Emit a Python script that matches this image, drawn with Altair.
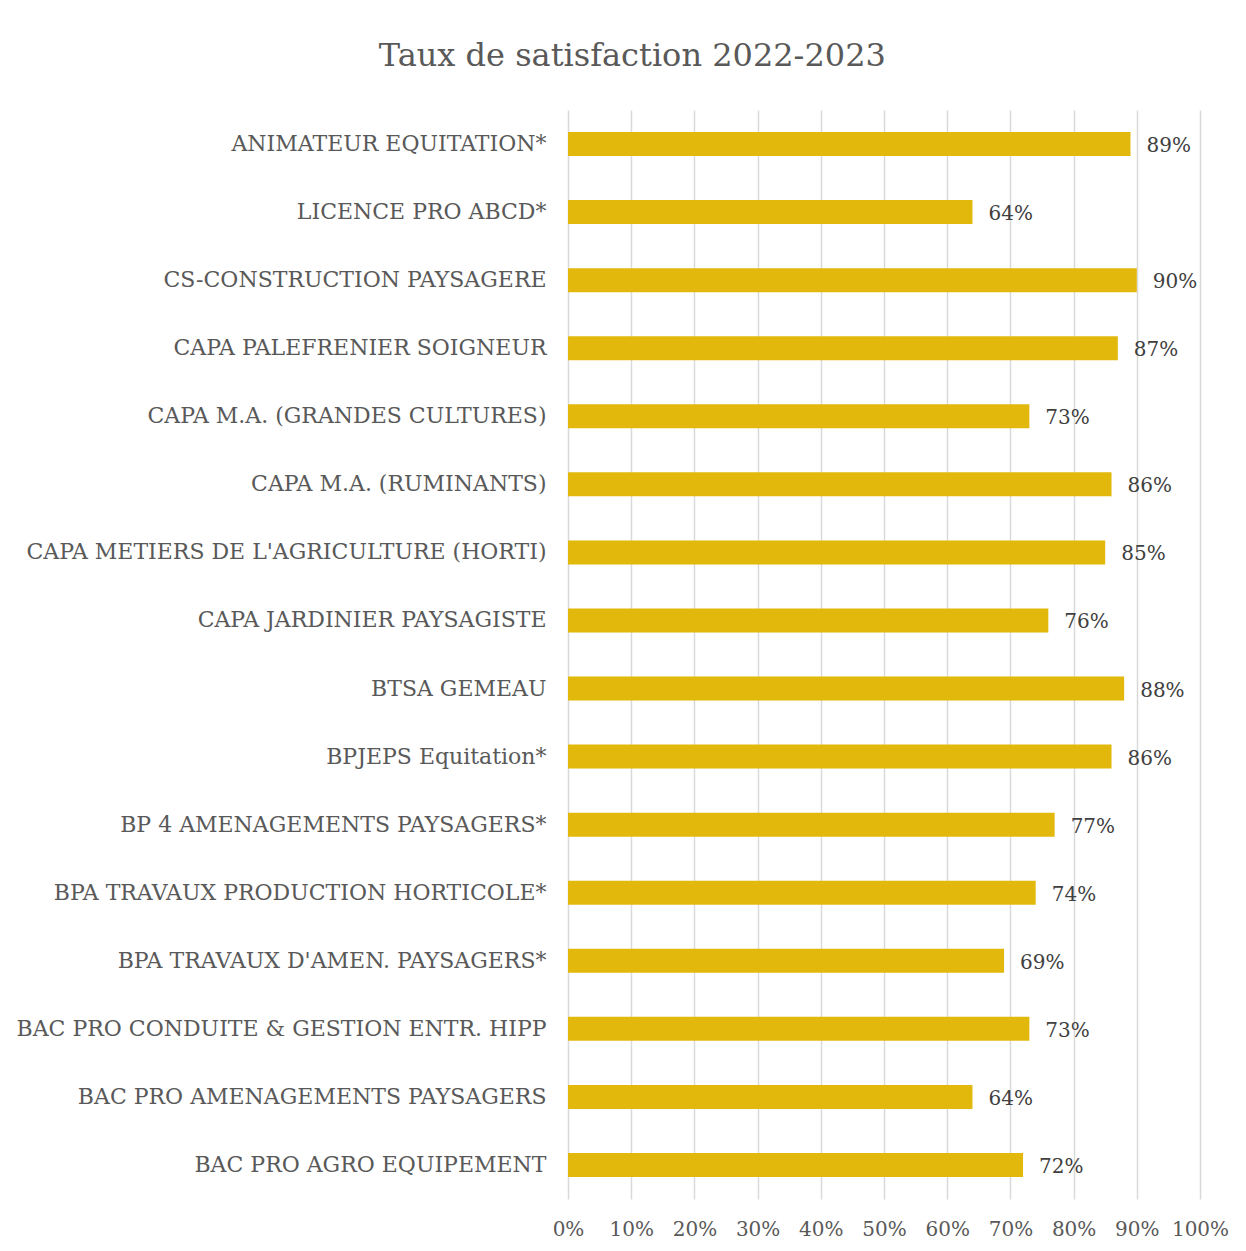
import altair as alt
import pandas as pd

categories = [
    "ANIMATEUR EQUITATION*",
    "LICENCE PRO ABCD*",
    "CS-CONSTRUCTION PAYSAGERE",
    "CAPA PALEFRENIER SOIGNEUR",
    "CAPA M.A. (GRANDES CULTURES)",
    "CAPA M.A. (RUMINANTS)",
    "CAPA METIERS DE L'AGRICULTURE (HORTI)",
    "CAPA JARDINIER PAYSAGISTE",
    "BTSA GEMEAU",
    "BPJEPS Equitation*",
    "BP 4 AMENAGEMENTS PAYSAGERS*",
    "BPA TRAVAUX PRODUCTION HORTICOLE*",
    "BPA TRAVAUX D'AMEN. PAYSAGERS*",
    "BAC PRO CONDUITE & GESTION ENTR. HIPP",
    "BAC PRO AMENAGEMENTS PAYSAGERS",
    "BAC PRO AGRO EQUIPEMENT",
]
values = [0.89, 0.64, 0.90, 0.87, 0.73, 0.86, 0.85, 0.76, 0.88, 0.86, 0.77, 0.74, 0.69, 0.73, 0.64, 0.72]
x_ticks = [0, 0.1, 0.2, 0.3, 0.4, 0.5, 0.6, 0.7, 0.8, 0.9, 1.0]

df = pd.DataFrame({"cat": categories, "val": values})
FONT = "DejaVu Serif"

y = alt.Y("cat:N", sort=categories, title=None,
          axis=alt.Axis(labelFont=FONT, labelFontSize=22, labelColor="#595959",
                        labelPadding=22, ticks=False, domain=False, labelLimit=600))
x = alt.X("val:Q", title=None, scale=alt.Scale(domain=[0, 1]),
          axis=alt.Axis(values=x_ticks, format=".0%", labelFont=FONT, labelFontSize=20,
                        labelColor="#595959", ticks=False, domain=False, labelOverlap=False,
                        labelFlush=False, gridColor="#d9d9d9", gridWidth=1.5, labelPadding=20))

bars = alt.Chart(df).mark_bar(size=24, color="#E2B80C").encode(x=x, y=y)
labels = alt.Chart(df).mark_text(align="left", dx=16, dy=2, font=FONT, fontSize=20,
                                 color="#404040").encode(
    x=alt.X("val:Q"), y=alt.Y("cat:N", sort=categories),
    text=alt.Text("val:Q", format=".0%"))

chart = (bars + labels).properties(
    width=632, height=1089,
    title=alt.TitleParams("Taux de satisfaction 2022-2023", font=FONT, fontSize=32,
                          fontWeight="normal", color="#595959", anchor="middle",
                          frame="bounds", offset=37, dx=10),
    autosize=alt.AutoSizeParams(type="none"),
    padding={"left": 560, "top": 102, "right": 30, "bottom": 50},
).configure(background="white").configure_view(stroke=None)

chart.save("out.html", embed_options={"renderer": "svg", "actions": False})
